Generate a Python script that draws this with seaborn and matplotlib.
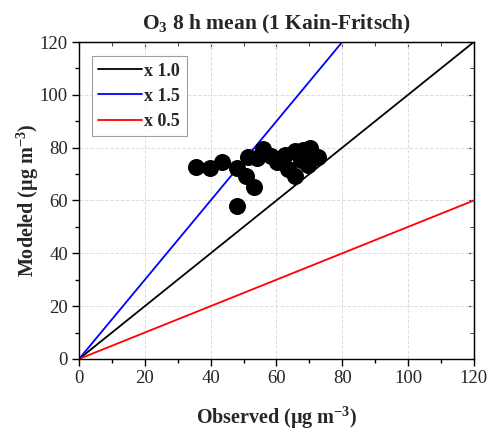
import numpy as np
import pandas as pd
import matplotlib
matplotlib.use("Agg")
import matplotlib.pyplot as plt
import seaborn as sns
from matplotlib.ticker import MultipleLocator

observed = [35.7, 39.8, 43.5, 47.9, 50.7, 53.3, 47.9, 51.4, 54.0, 55.8, 58.5, 60.2,
            62.6, 65.6, 68.0, 70.2, 72.6, 69.6, 63.5, 65.6, 67.4]
modeled = [72.5, 72.4, 74.7, 72.4, 69.4, 65.0, 57.9, 76.3, 76.0, 79.5, 76.8, 74.6,
           77.2, 78.7, 79.0, 79.9, 76.5, 73.4, 71.9, 69.3, 75.3]

line_x = [0, 120]
ratios = [1.0, 1.5, 0.5]
ratio_labels = ["x 1.0", "x 1.5", "x 0.5"]
ratio_colors = ["black", "blue", "red"]

sns.set_style("white")
plt.rcParams['font.family'] = ['Liberation Serif', 'DejaVu Serif']
plt.rcParams['mathtext.fontset'] = 'custom'
plt.rcParams['mathtext.rm'] = 'Liberation Serif'
plt.rcParams['mathtext.bf'] = 'Liberation Serif:bold'

fig = plt.figure(figsize=(4.91, 4.33), dpi=100)
ax = fig.add_axes([0.161, 0.171, 0.804, 0.732])

for r, lab, c in zip(ratios, ratio_labels, ratio_colors):
    df = pd.DataFrame({"x": line_x, "y": [v * r for v in line_x]})
    sns.lineplot(data=df, x="x", y="y", ax=ax, color=c, lw=1.3, label=lab)

sns.scatterplot(x=observed, y=modeled, ax=ax, color="black", s=150,
                edgecolor="black", linewidth=0, zorder=5)

ax.set_xlim(0, 120)
ax.set_ylim(0, 120)
ax.xaxis.set_major_locator(MultipleLocator(20))
ax.yaxis.set_major_locator(MultipleLocator(20))
ax.xaxis.set_minor_locator(MultipleLocator(10))
ax.yaxis.set_minor_locator(MultipleLocator(10))
ax.grid(True, which="major", color="#dddddd", ls="--", lw=0.7)
ax.set_axisbelow(True)
for s in ax.spines.values():
    s.set_color("black")
    s.set_linewidth(1.0)
ax.tick_params(which="both", direction="out", bottom=True, left=True, labelsize=13.5,
               color="black", pad=3)
ax.tick_params(which="major", length=5, width=1)
ax.tick_params(which="minor", length=3, width=1)
ax2x = ax.secondary_xaxis("top")
ax2x.xaxis.set_major_locator(MultipleLocator(20))
ax2x.xaxis.set_minor_locator(MultipleLocator(10))
ax2x.tick_params(which="both", direction="in", labeltop=False)
ax2x.tick_params(which="major", length=5)
ax2x.tick_params(which="minor", length=3)
ax2x.set_xticklabels([])
ax2y = ax.secondary_yaxis("right")
ax2y.yaxis.set_major_locator(MultipleLocator(20))
ax2y.yaxis.set_minor_locator(MultipleLocator(10))
ax2y.tick_params(which="both", direction="in", labelright=False)
ax2y.tick_params(which="major", length=5)
ax2y.tick_params(which="minor", length=3)
ax2y.set_yticklabels([])

ax.set_xlabel(r"Observed ($\mathbf{\mu}$g m$^{\mathbf{-3}}$)", fontsize=14.5,
              fontweight="bold", labelpad=12)
ax.set_ylabel(r"Modeled ($\mathbf{\mu}$g m$^{\mathbf{-3}}$)", fontsize=14.5,
              fontweight="bold", labelpad=-1)
ax.set_title(r"O$_\mathbf{3}$ 8 h mean (1 Kain-Fritsch)", fontsize=15.5,
             fontweight="bold", pad=9)

leg = ax.legend(loc="upper left", bbox_to_anchor=(0.033, 0.955), frameon=True,
                fancybox=False, edgecolor="#888888",
                prop={"weight": "bold", "size": 13}, handlelength=2.4,
                handletextpad=0.15, borderpad=0.35, borderaxespad=0,
                labelspacing=0.45)
leg.get_frame().set_linewidth(0.8)

fig.savefig("out.png", dpi=100)
